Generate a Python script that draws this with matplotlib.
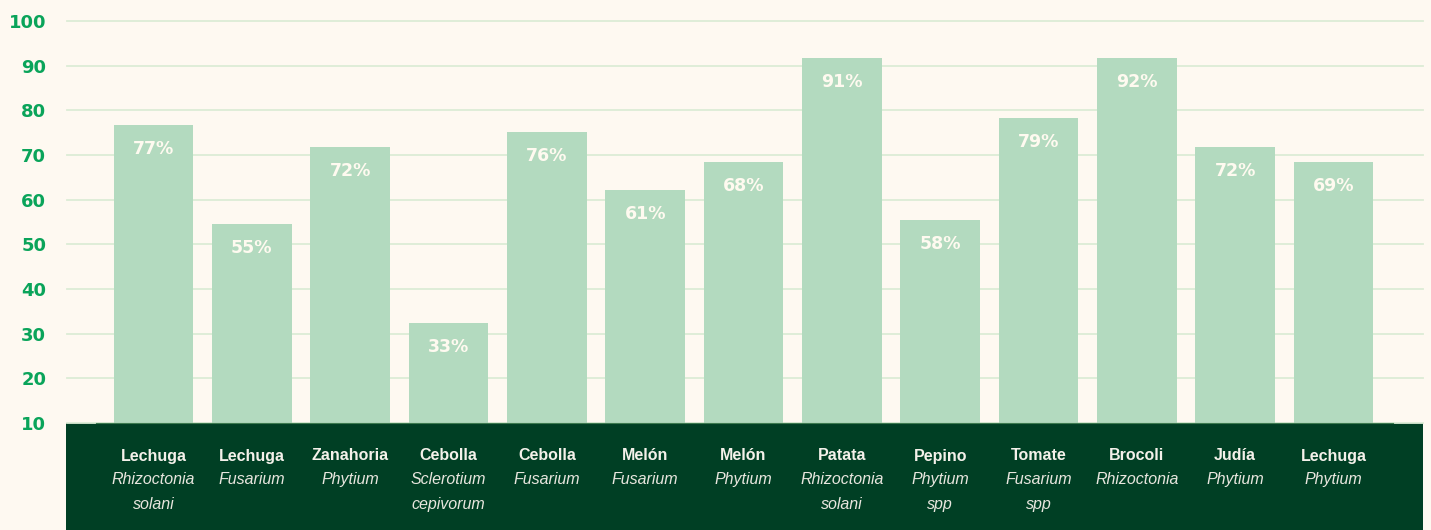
import matplotlib.pyplot as plt
from matplotlib.patches import Rectangle

# data
crops = ['Lechuga', 'Lechuga', 'Zanahoria', 'Cebolla', 'Cebolla', 'Melón', 'Melón',
         'Patata', 'Pepino', 'Tomate', 'Brocoli', 'Judía', 'Lechuga']
pathogens = ['Rhizoctonia\nsolani', 'Fusarium', 'Phytium', 'Sclerotium\ncepivorum', 'Fusarium',
             'Fusarium', 'Phytium', 'Rhizoctonia\nsolani', 'Phytium\nspp', 'Fusarium\nspp',
             'Rhizoctonia', 'Phytium', 'Phytium']
bar_values = [76.7, 54.6, 71.8, 32.4, 75.2, 62.2, 68.5, 91.7, 55.5, 78.3, 91.7, 71.8, 68.5]
pct_labels = ['77%', '55%', '72%', '33%', '76%', '61%', '68%', '91%', '58%', '79%', '92%', '72%', '69%']
y_ticks = [10, 20, 30, 40, 50, 60, 70, 80, 90, 100]

BG = '#fef9f1'
BAR = '#b3dabf'
DARK = '#003f24'
TICK_GREEN = '#0aa45a'
GRID = '#dcecd6'

W, H = 1431, 530
fig = plt.figure(figsize=(W / 100, H / 100), dpi=100, facecolor=BG)
ax = fig.add_axes([67 / W, (H - 423) / H, (1423 - 67) / W, (423 - 21) / H])
ax.set_facecolor(BG)

# dark band holding the category labels (drawn under the axes texts)
fig.patches.append(Rectangle((66 / W, 0), (1423 - 66) / W, (H - 423) / H,
                             transform=fig.transFigure, facecolor=DARK, edgecolor='none', zorder=-1))

x = list(range(len(crops)))
ax.bar(x, [v - 10 for v in bar_values], bottom=10, width=0.81, color=BAR, zorder=2)

ax.set_ylim(10, 100)
ax.set_xlim(-0.88, len(crops) - 1 + 0.91)
ax.set_yticks(y_ticks)
ax.set_yticklabels([str(t) for t in y_ticks], color=TICK_GREEN, fontsize=13,
                   fontweight='bold', family='DejaVu Sans')
ax.tick_params(axis='y', length=0, pad=15)
ax.tick_params(axis='x', length=0, labelbottom=False)
ax.grid(axis='y', color=GRID, linewidth=1.3, zorder=1)
for gl in ax.get_ygridlines():
    gl.set_clip_on(False)
for s in ['top', 'right', 'left']:
    ax.spines[s].set_visible(False)
ax.spines['bottom'].set_color('#3d7a50')
ax.spines['bottom'].set_bounds(-0.58, len(crops) - 1 + 0.6)

# percentage labels inside the bars
for xi, v, lab in zip(x, bar_values, pct_labels):
    ax.text(xi, v - 5.4, lab, ha='center', va='center', color='#fffaf0', fontsize=12.5,
            fontweight='bold', family='DejaVu Sans', zorder=3)

# category labels in the band
trans = ax.get_xaxis_transform()
ah = 423 - 21
for xi, crop, path in zip(x, crops, pathogens):
    ax.text(xi, -33 / ah, crop, transform=trans, ha='center', va='center', color='#f4f1ea',
            fontsize=11.5, fontweight='bold', family='Liberation Sans', clip_on=False)
    ax.text(xi, -49 / ah, path, transform=trans, ha='center', va='top', color='#e8e6de',
            fontsize=11.5, style='italic', family='Liberation Sans', linespacing=1.85,
            clip_on=False)

plt.savefig('out.png', dpi=100, facecolor=BG)
